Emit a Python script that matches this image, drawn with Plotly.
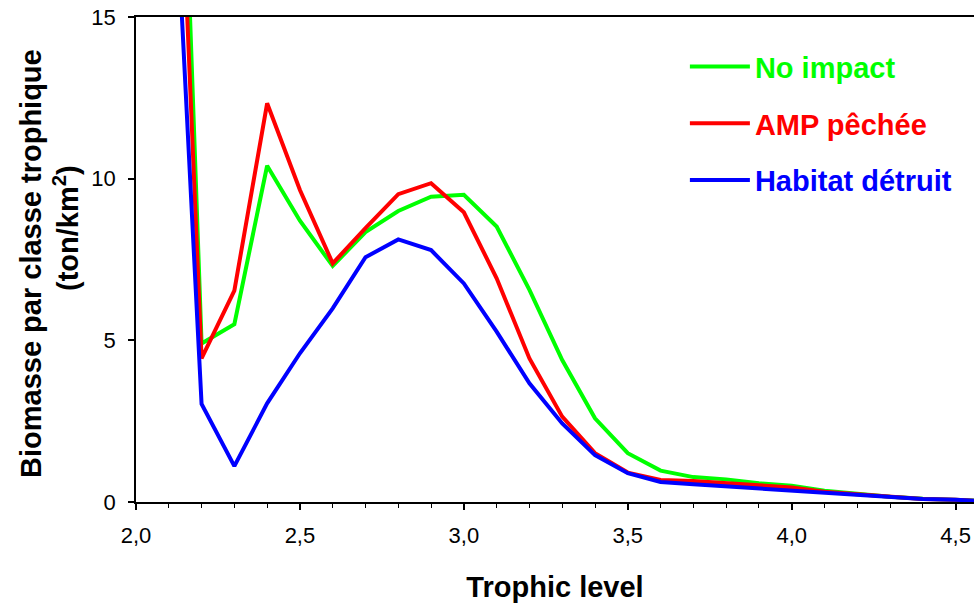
import plotly.graph_objects as go

# Trophic level classes (0.1 steps)
trophic_level = [2.1, 2.2, 2.3, 2.4, 2.5, 2.6, 2.7, 2.8, 2.9, 3.0, 3.1, 3.2, 3.3,
                 3.4, 3.5, 3.6, 3.7, 3.8, 3.9, 4.0, 4.1, 4.2, 4.3, 4.4, 4.5, 4.6]

# Biomass per trophic class (ton/km²) for each scenario
no_impact = [33.6, 4.9, 5.5, 10.4, 8.7, 7.3, 8.35, 9.0, 9.44, 9.5, 8.52, 6.56, 4.39,
             2.59, 1.51, 0.97, 0.77, 0.70, 0.58, 0.50, 0.35, 0.25, 0.16, 0.10, 0.08, 0.03]
amp_pechee = [28.6, 4.44, 6.54, 12.33, 9.65, 7.38, 8.47, 9.52, 9.86, 8.96, 6.92, 4.44, 2.64,
              1.51, 0.91, 0.68, 0.65, 0.60, 0.52, 0.45, 0.32, 0.24, 0.16, 0.09, 0.07, 0.02]
habitat_detruit = [23.0, 3.03, 1.11, 3.05, 4.6, 5.99, 7.57, 8.12, 7.79, 6.76, 5.27, 3.67, 2.43,
                   1.45, 0.89, 0.62, 0.55, 0.48, 0.42, 0.36, 0.29, 0.22, 0.16, 0.09, 0.07, 0.02]

series = [
    ("No impact", no_impact, "#00ff00"),
    ("AMP pêchée", amp_pechee, "#ff0000"),
    ("Habitat détruit", habitat_detruit, "#0000ff"),
]

FONT = "Liberation Sans, Arial, sans-serif"

fig = go.Figure()
for i, (name, values, color) in enumerate(series):
    fig.add_trace(go.Scatter(
        x=trophic_level, y=values, mode="lines", name=f'<span style="color:{color}"><b>{name}</b></span>',
        line=dict(color=color, width=4), legendgroup=f"g{i}",
    ))

fig.update_layout(
    width=974, height=604,
    margin=dict(l=136, r=0, t=17, b=102),
    paper_bgcolor="white", plot_bgcolor="white",
    separators=", ",
    font=dict(family=FONT, color="black"),
    showlegend=True,
    legend=dict(
        x=0.655, y=0.95, xanchor="left", yanchor="top",
        font=dict(size=29, family=FONT),
        bgcolor="rgba(0,0,0,0)", tracegroupgap=16, traceorder="grouped",
        itemwidth=60,
    ),
    xaxis=dict(
        range=[2.0, 4.556], tickmode="array", tickvals=[2.0, 2.5, 3.0, 3.5, 4.0, 4.5],
        tickformat=".1f", ticks="outside", ticklen=6, tickwidth=1.5, tickcolor="black",
        showline=True, linecolor="black", linewidth=2, mirror=True,
        showgrid=False, zeroline=False,
        tickfont=dict(size=22, family=FONT), ticklabelstandoff=7,
        minor=dict(dtick=0.1, tick0=2.0, ticks="outside", ticklen=4, tickwidth=1.2,
                   tickcolor="black", showgrid=False),
        title=dict(text="<b>Trophic level</b>", font=dict(size=29, family=FONT), standoff=29),
    ),
    yaxis=dict(
        range=[0, 15], tickvals=[0, 5, 10, 15], ticks="outside", ticklen=6,
        tickwidth=1.5, tickcolor="black",
        showline=True, linecolor="black", linewidth=1.5,
        showgrid=False, zeroline=False,
        tickfont=dict(size=22, family=FONT), ticklabelstandoff=8,
    ),
)

# Two-line y-axis title
fig.add_annotation(
    text="<b>Biomasse par classe trophique</b>", textangle=-90,
    xref="paper", yref="paper", x=(31 - 136) / 838, y=(502 - 264) / 485,
    xanchor="center", yanchor="middle", showarrow=False,
    font=dict(size=29, family=FONT, color="black"),
)
fig.add_annotation(
    text="<b>(ton/km<sup>2</sup>)</b>", textangle=-90,
    xref="paper", yref="paper", x=(66 - 136) / 838, y=(502 - 228) / 485,
    xanchor="center", yanchor="middle", showarrow=False,
    font=dict(size=29, family=FONT, color="black"),
)

fig.write_html("out.html")
